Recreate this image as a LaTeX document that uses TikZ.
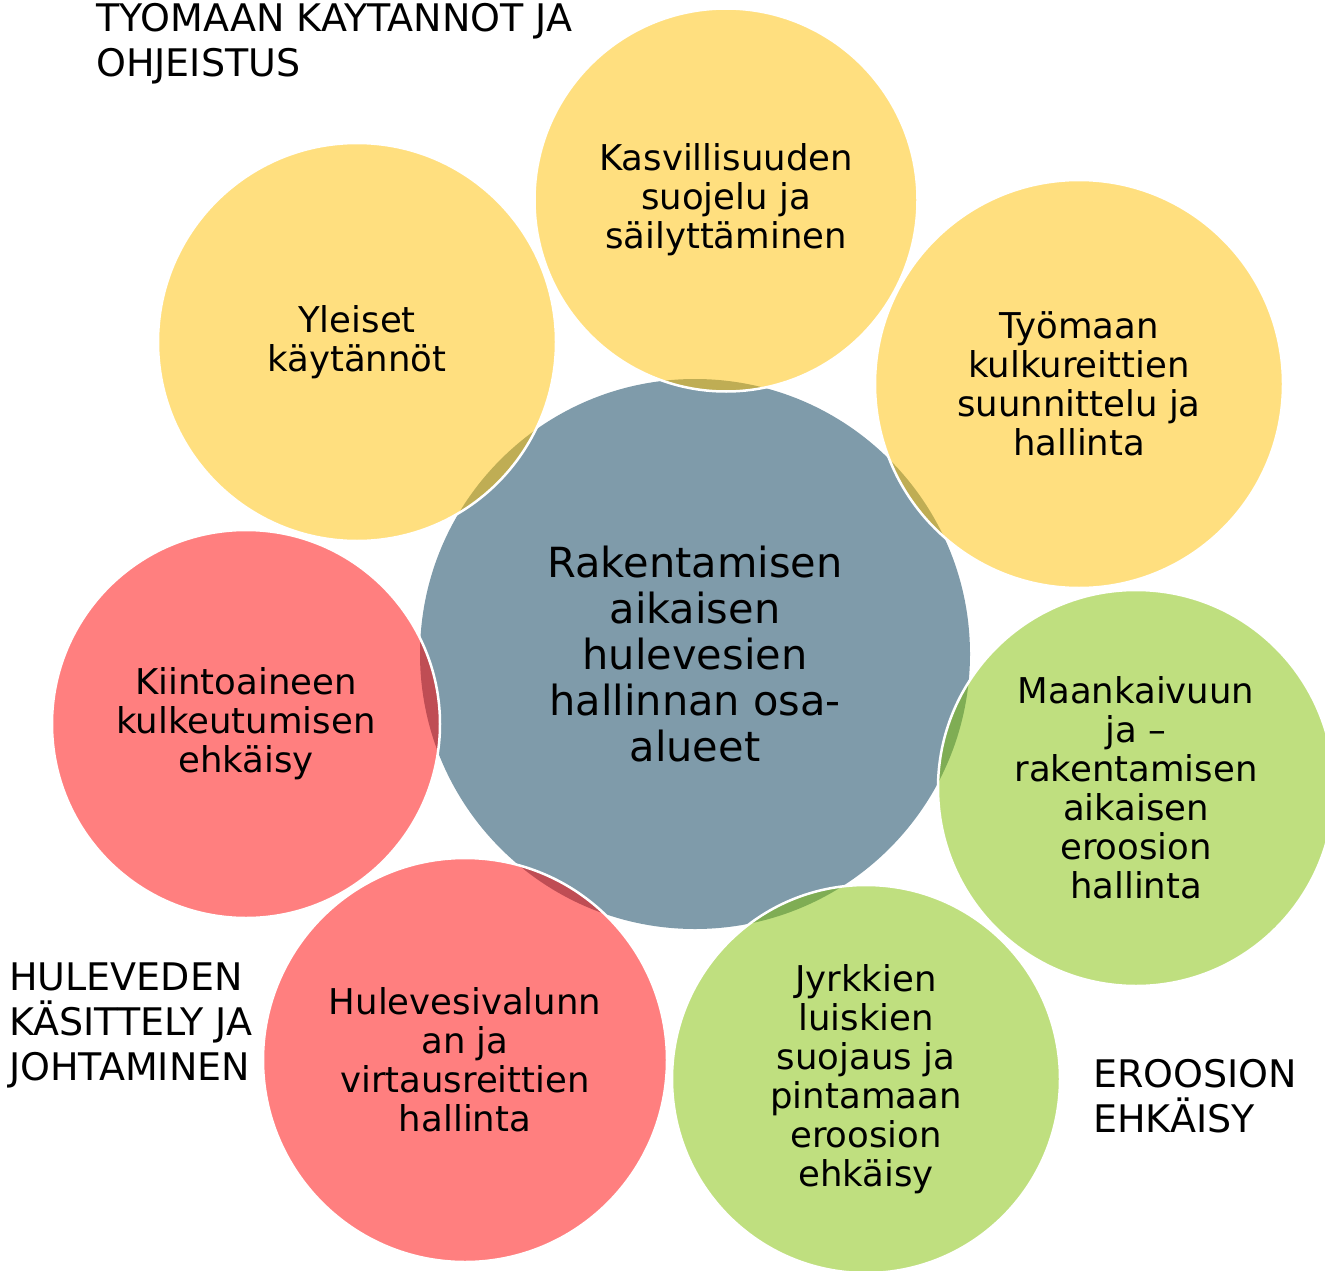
\documentclass[tikz,border=0pt]{standalone}
\usepackage{fontspec}
\setmainfont{DejaVu Sans}
\usepackage{tikz}
\definecolor{myslate}{HTML}{7F9BAA}
\definecolor{mygold}{HTML}{FFC000}
\definecolor{myred}{HTML}{FF0000}
\definecolor{mylime}{HTML}{80C000}

\begin{document}
\begin{tikzpicture}[x=1pt,y=-1pt,
  hub/.style={circle,fill=myslate,inner sep=0pt,minimum size=550pt,
              align=center,font=\fontsize{41.5}{46}\selectfont},
  bub/.style={circle,draw=white,line width=2.5pt,fill opacity=0.5,text opacity=1,
              inner sep=0pt,align=center,font=\fontsize{35.5}{39}\selectfont},
  goldbub/.style={bub,fill=mygold},
  redbub/.style={bub,fill=myred},
  limebub/.style={bub,fill=mylime},
  lbl/.style={anchor=base west,align=left,inner sep=0pt,
              font=\fontsize{38}{45}\selectfont}]
\useasboundingbox (0,0) rectangle (1325,1271);
% centre
\node[hub] (H) at (695,654) {Rakentamisen\\aikaisen\\hulevesien\\hallinnan osa-\\alueet};
% ring of subareas
\node[goldbub,minimum size=398pt] (Y) at (357,342)  {Yleiset\\käytännöt};
\node[goldbub,minimum size=383pt] (K) at (726,200)  {Kasvillisuuden\\suojelu ja\\säilyttäminen};
\node[goldbub,minimum size=408pt] (T) at (1079,384) {Työmaan\\kulkureittien\\suunnittelu ja\\hallinta};
\node[limebub,minimum size=396pt] (M) at (1136,788) {Maankaivuun\\ja –\\rakentamisen\\aikaisen\\eroosion\\hallinta};
\node[limebub,minimum size=388pt] (J) at (866,1079) {Jyrkkien\\luiskien\\suojaus ja\\pintamaan\\eroosion\\ehkäisy};
\node[redbub,minimum size=404pt]  (V) at (465,1060) {Hulevesivalunn\\an ja\\virtausreittien\\hallinta};
\node[redbub,minimum size=388pt]  (A) at (246,724)  {Kiintoaineen\\kulkeutumisen\\ehkäisy};
% group labels (base = last line)
\node[lbl] (L1) at (96,77)     {TYOMAAN KAYTANNOT JA\\OHJEISTUS};
\node[lbl] (L2) at (9,1080)    {HULEVEDEN\\KÄSITTELY JA\\JOHTAMINEN};
\node[lbl] (L3) at (1093,1132) {EROOSION\\EHKÄISY};
\end{tikzpicture}
\end{document}
